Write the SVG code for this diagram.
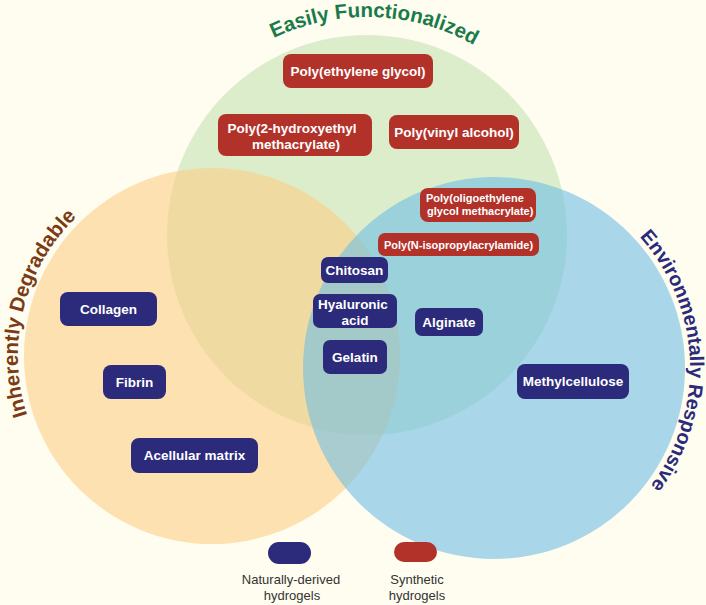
<svg xmlns="http://www.w3.org/2000/svg" xmlns:xlink="http://www.w3.org/1999/xlink" width="706" height="605" viewBox="0 0 706 605">
  <style>
    .nat { fill: #2B2A7B; }
    .syn { fill: #B2322A; }
    .lbl { font-family: "Liberation Sans", Arial, sans-serif; font-weight: bold; font-size: 13.5px; fill: #FFFFFF; text-anchor: middle; }
    .sm { font-size: 11px; }
    .title { font-family: "Liberation Sans", Arial, sans-serif; font-weight: bold; font-size: 20.5px; }
    .leg { font-family: "Liberation Sans", Arial, sans-serif; font-size: 13px; fill: #333333; text-anchor: middle; }
  </style>
  <defs>
    <path id="arcGreen" d="M153.8,189.7 A218,218 0 0 1 582.9,204.7" fill="none"/>
    <path id="arcOrange" d="M117.9,525.7 A194,194 0 0 1 208.6,162.0" fill="none"/>
    <path id="arcBlue" d="M536.4,176.6 A196,196 0 0 1 552.9,554.9" fill="none"/>
  </defs>
  <rect width="706" height="605" fill="#FEFDEF"/>

  <g id="circles">
    <circle id="circle-functionalized" cx="367" cy="235" r="200" fill="#DCEDCB"/>
    <circle id="circle-degradable" cx="212" cy="356" r="188" fill="#FCCE85" fill-opacity="0.6"/>
    <circle id="circle-responsive" cx="494" cy="368" r="191" fill="#70BEE4" fill-opacity="0.6"/>
  </g>

  <g id="titles">
    <text class="title" fill="#1B7A4B"><textPath xlink:href="#arcGreen" href="#arcGreen" startOffset="50%" text-anchor="middle">Easily Functionalized</textPath></text>
    <text class="title" fill="#7B3B14"><textPath xlink:href="#arcOrange" href="#arcOrange" startOffset="50%" text-anchor="middle">Inherently Degradable</textPath></text>
    <text class="title" fill="#2B2A7B" style="font-size:19.8px"><textPath xlink:href="#arcBlue" href="#arcBlue" startOffset="50%" text-anchor="middle">Environmentally Responsive</textPath></text>
  </g>

  <g id="peg">
    <rect class="syn" x="283" y="54" width="150" height="34" rx="8"/>
    <text class="lbl" x="358" y="76">Poly(ethylene glycol)</text>
  </g>
  <g id="phema">
    <rect class="syn" x="218" y="114" width="154" height="42" rx="8"/>
    <text class="lbl" x="292" y="133">Poly(2-hydroxyethyl</text>
    <text class="lbl" x="296" y="149">methacrylate)</text>
  </g>
  <g id="pva">
    <rect class="syn" x="389" y="115" width="130" height="34" rx="8"/>
    <text class="lbl" x="454" y="137">Poly(vinyl alcohol)</text>
  </g>
  <g id="pegma">
    <rect class="syn" x="420" y="188" width="116" height="34" rx="8"/>
    <text class="lbl sm" x="426" y="202" style="text-anchor:start">Poly(oligoethylene</text>
    <text class="lbl sm" x="427" y="215" style="text-anchor:start">glycol methacrylate)</text>
  </g>
  <g id="pnipam">
    <rect class="syn" x="378" y="233" width="161" height="23" rx="7"/>
    <text class="lbl sm" x="458.5" y="248.5">Poly(N-isopropylacrylamide)</text>
  </g>
  <g id="chitosan">
    <rect class="nat" x="321" y="257" width="67" height="26" rx="7"/>
    <text class="lbl" x="354.5" y="274.5">Chitosan</text>
  </g>
  <g id="hyaluronic-acid">
    <rect class="nat" x="313" y="294" width="84" height="34" rx="7"/>
    <text class="lbl" x="353" y="309">Hyaluronic</text>
    <text class="lbl" x="355" y="324.5">acid</text>
  </g>
  <g id="gelatin">
    <rect class="nat" x="323" y="340" width="64" height="34" rx="7"/>
    <text class="lbl" x="355" y="361.5">Gelatin</text>
  </g>
  <g id="alginate">
    <rect class="nat" x="415" y="308" width="68" height="28" rx="7"/>
    <text class="lbl" x="449" y="326.5">Alginate</text>
  </g>
  <g id="methylcellulose">
    <rect class="nat" x="517" y="364" width="112" height="35" rx="8"/>
    <text class="lbl" x="573" y="386">Methylcellulose</text>
  </g>
  <g id="collagen">
    <rect class="nat" x="60" y="292" width="97" height="34" rx="8"/>
    <text class="lbl" x="108.5" y="313.5">Collagen</text>
  </g>
  <g id="fibrin">
    <rect class="nat" x="103" y="365" width="63" height="34" rx="8"/>
    <text class="lbl" x="134.5" y="386.5">Fibrin</text>
  </g>
  <g id="acellular-matrix">
    <rect class="nat" x="131" y="438" width="127" height="35" rx="8"/>
    <text class="lbl" x="194.5" y="460">Acellular matrix</text>
  </g>

  <g id="legend-natural">
    <rect class="nat" x="268" y="542" width="43" height="22" rx="11"/>
    <text class="leg" x="291" y="584">Naturally-derived</text>
    <text class="leg" x="292" y="600">hydrogels</text>
  </g>
  <g id="legend-synthetic">
    <rect class="syn" x="394" y="542" width="43" height="20" rx="10"/>
    <text class="leg" x="417" y="584">Synthetic</text>
    <text class="leg" x="417" y="600">hydrogels</text>
  </g>
</svg>
